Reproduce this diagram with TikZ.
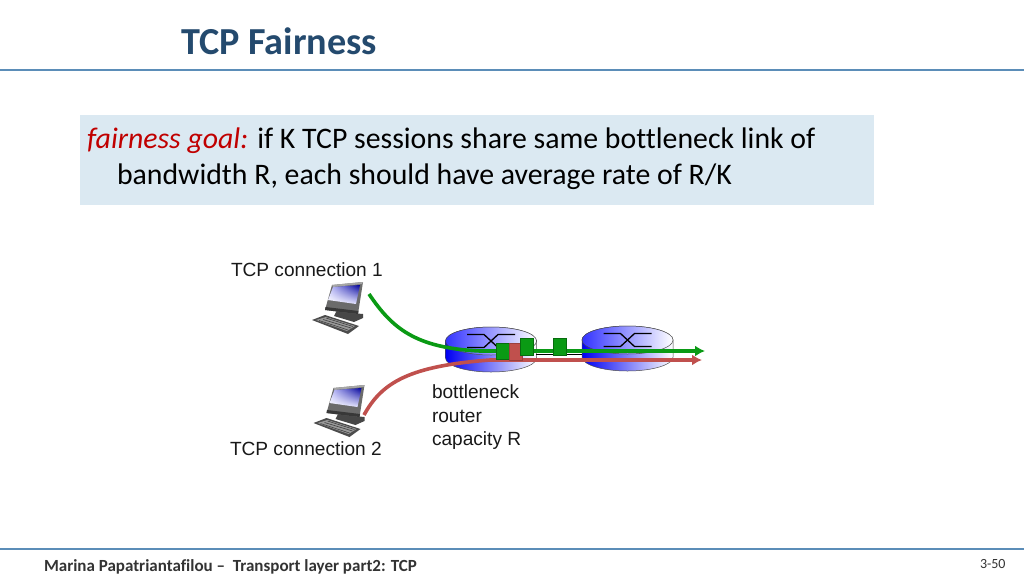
\documentclass[tikz,border=0pt]{standalone}
\usepackage{fontspec}
\setmainfont{Carlito}[RawFeature=-liga]
\newfontfamily\arialf{Liberation Sans}
\usetikzlibrary{arrows.meta,shadings}
\definecolor{titleblue}{HTML}{244A6E}
\definecolor{rule}{HTML}{5B8DB8}
\definecolor{goalbg}{HTML}{DBE9F2}
\definecolor{goalred}{HTML}{C00000}
\definecolor{flowgreen}{HTML}{0A9A14}
\definecolor{flowred}{HTML}{C0504D}
\definecolor{footgrey}{HTML}{333333}
\tikzset{
  x=1pt,y=-1pt,
  headline/.style={draw=rule,line width=2.4pt},
  plain/.style={inner sep=0pt,outer sep=0pt,anchor=base west},
  arial/.style={plain,font=\arialf\fontsize{19.1}{19}\selectfont,text=black!90},
  flow/.style={line width=3.6pt,-{Latex[length=10pt,width=11pt]}},
  pkt/.style={line width=.5pt},
  pics/pc/.style={code={
    % keyboard
    \fill[black!70] (-20,35) -- (16,49) -- (27,41) -- (-7,30) -- cycle;
    \fill[black!40] (-16,35) -- (15,46) -- (23,41) -- (-6,32) -- cycle;
    \draw[black!75,line width=.6pt] (-13,35.5) -- (16,45) (-9,34.5) -- (19,43) (-6,33) -- (21,41.5);
    % stand and base
    \fill[black!72] (5,25) -- (20,28) -- (31,29) -- (31,33) -- (22,37) -- (2,31) -- cycle;
    % monitor
    \fill[black!58] (0,0) -- (31,-3) -- (26,29) -- (-7,25) -- cycle;
    \fill[black!35] (0,0) -- (31,-3) -- (30,-1) -- (1,2) -- cycle;
    \shade[lower left=white,upper right=blue!60!black,upper left=blue!22,lower right=blue!12]
       (1,2) -- (28,0) -- (24,19) -- (-4,15) -- cycle;
    \fill[black!78] (-7,25) -- (26,29) -- (26.5,26) -- (-6.5,22) -- cycle;
  }},
  pics/rtr/.style={code={
    \shade[left color=blue!95!black,right color=white,draw=black!70,line width=.5pt]
      (-45.5,0) -- (-45.5,17) arc[start angle=180,end angle=0,x radius=45.5,y radius=14]
      -- (45.5,0) arc[start angle=0,end angle=-180,x radius=45.5,y radius=14] -- cycle;
    \shade[left color=blue!80,right color=white,draw=black!70,line width=.5pt]
      (0,0) ellipse[x radius=45.5,y radius=14];
    \draw[black,line width=1.3pt] (-24,-6.5) -- (-7,-6.5) -- (7,6.5) -- (24,6.5);
    \draw[black,line width=1.3pt] (-24,6.5) -- (-7,6.5) -- (7,-6.5) -- (24,-6.5);
  }},
}
\begin{document}
\begin{tikzpicture}
\useasboundingbox (0,0) rectangle (1024,576);
\fill[white] (0,0) rectangle (1024,576);
% title and rules
\node[plain,text=titleblue,font=\fontsize{38.2}{38}\selectfont\bfseries] (title) at (181,54) {TCP Fairness};
\draw[headline] (0,70) -- (1024,70);
\draw[headline] (0,549) -- (1024,549);
% goal box
\fill[goalbg] (80,115) rectangle (874,205);
\node[plain,font=\fontsize{29.8}{30}\selectfont] (goal1) at (87,148) {\textcolor{goalred}{\itshape fairness goal:} if K TCP sessions share same bottleneck link of};
\node[plain,font=\fontsize{29.8}{30}\selectfont] (goal2) at (117,184) {bandwidth R, each should have average rate of R/K};
% labels
\node[arial] (c1) at (231,276) {TCP connection 1};
\node[arial] (c2) at (230,455) {TCP connection 2};
\node[arial] (b1) at (432,398) {bottleneck};
\node[arial] (b2) at (432,422) {router};
\node[arial] (b3) at (432,445) {capacity R};
% computers
\pic at (332,285) {pc};
\pic at (333.5,388) {pc};
% routers
\pic at (491,341) {rtr};
\pic at (627.5,340) {rtr};
% link
\draw[black,line width=1.6pt] (536,354.5) -- (582,354.5);
% flows
\coordinate (g0) at (369,294);
\coordinate (r0) at (364,415);
\coordinate (g1) at (705,351);
\coordinate (r1) at (702,360);
\draw[flow,draw=flowgreen,color=flowgreen] (g0) .. controls (392,328) and (415,348) .. (480,351) -- (g1);
\draw[flow,draw=flowred,color=flowred] (r0) .. controls (382,382) and (410,366) .. (490,360) -- (r1);
% packets
\path[fill=flowgreen,draw=flowgreen!70!black,pkt] (496,343) rectangle (509,359);
\path[fill=flowred,draw=flowred!80!black,pkt] (509,343) rectangle (522,360);
\path[fill=flowgreen,draw=flowgreen!70!black,pkt] (520,338) rectangle (533,355);
\path[fill=flowgreen,draw=flowgreen!70!black,pkt] (553,338) rectangle (566,355);
% footer
\node[plain,text=footgrey,font=\fontsize{17}{17}\selectfont\bfseries] (foot) at (44,571) {Marina Papatriantafilou –\ \ Transport layer part2: TCP};
\node[plain,text=footgrey,font=\fontsize{14}{14}\selectfont] (page) at (980,568) {3-50};
\end{tikzpicture}
\end{document}
